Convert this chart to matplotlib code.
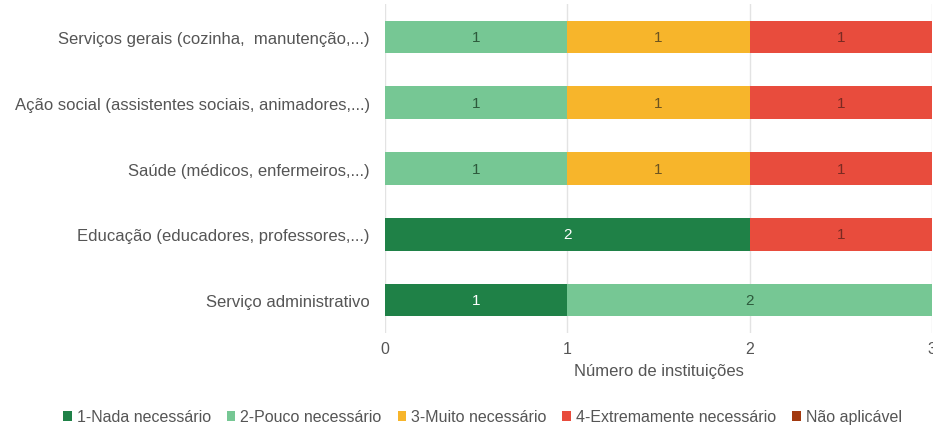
import matplotlib.pyplot as plt
import numpy as np

plt.rcParams["font.family"] = ["Liberation Sans", "DejaVu Sans"]

categories = [
    "Serviço administrativo",
    "Educação (educadores, professores,...)",
    "Saúde (médicos, enfermeiros,...)",
    "Ação social (assistentes sociais, animadores,...)",
    "Serviços gerais (cozinha,  manutenção,...)",
]
levels = [
    "1-Nada necessário",
    "2-Pouco necessário",
    "3-Muito necessário",
    "4-Extremamente necessário",
    "Não aplicável",
]
# counts per level, one entry per category (bottom to top)
nada = [1, 2, 0, 0, 0]
pouco = [2, 0, 1, 1, 1]
muito = [0, 0, 1, 1, 1]
extremo = [0, 1, 1, 1, 1]
nao_aplica = [0, 0, 0, 0, 0]

series = [nada, pouco, muito, extremo, nao_aplica]
colors = ["#1f8147", "#76c794", "#f7b52b", "#e84c3d", "#a2390f"]
text_colors = ["white", "#2d5a3c", "#6b5320", "#7a2a22", "white"]

fig, ax = plt.subplots(figsize=(9.33, 4.27), dpi=100)
fig.subplots_adjust(left=0.4127, right=0.999, bottom=0.218, top=0.988)

y = np.arange(len(categories))
left = np.zeros(len(categories))
for vals, name, col, tcol in zip(series, levels, colors, text_colors):
    vals = np.array(vals, dtype=float)
    bars = ax.barh(y, vals, left=left, height=0.5, color=col, label=name, zorder=3)
    for b, v in zip(bars, vals):
        if v > 0:
            ax.text(b.get_x() + b.get_width() / 2, b.get_y() + b.get_height() / 2,
                    f"{int(v)}", ha="center", va="center", color=tcol,
                    fontsize=11, zorder=4)
    left += vals

ax.set_xlim(0, 3)
ax.set_ylim(-0.5, 4.5)
ax.set_xticks([0, 1, 2, 3])
ax.set_yticks(y)
ax.set_yticklabels(categories)
ax.tick_params(axis="x", length=0, labelsize=11.5, colors="#555555", pad=6)
ax.tick_params(axis="y", length=0, labelsize=12, colors="#555555", pad=11)
ax.grid(axis="x", color="#e3e3e3", linewidth=1, zorder=0)
for s in ax.spines.values():
    s.set_visible(False)
ax.set_xlabel("Número de instituições", fontsize=12, color="#555555", labelpad=5)

ax.legend(loc="center", bbox_to_anchor=(0.517, 1 - 418 / 427), bbox_transform=fig.transFigure,
          ncol=5, frameon=False, fontsize=11.5, handlelength=0.55, handleheight=0.55,
          handletextpad=0.3, columnspacing=1.0, labelcolor="#555555")

plt.savefig("out.png", dpi=100)
